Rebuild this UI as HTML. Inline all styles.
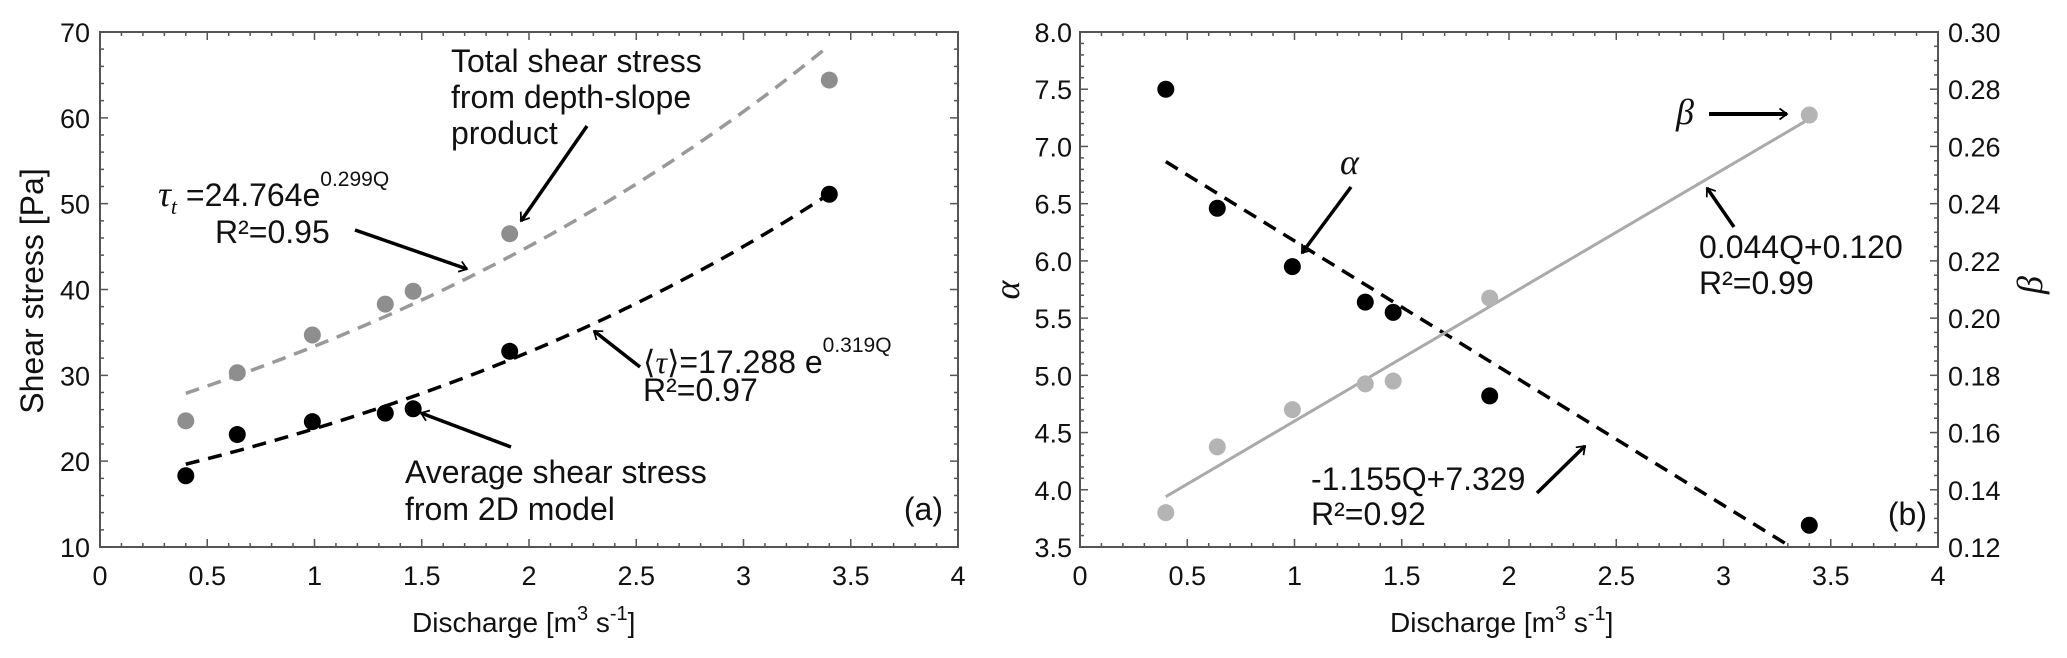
<!DOCTYPE html>
<html><head><meta charset="utf-8"><style>
html,body{margin:0;padding:0;background:#fff;}
svg{display:block;font-family:"Liberation Sans",sans-serif;}
.tk{font-size:27px;fill:#111;}
.an{font-size:32px;fill:#111;}
.sup{font-size:21px;fill:#111;}
</style></head><body>
<svg id="fig" width="2067" height="658" viewBox="0 0 2067 658" xmlns="http://www.w3.org/2000/svg">
<defs>
<marker id="ah" viewBox="0 0 10 10" refX="9" refY="5" markerWidth="5" markerHeight="5" orient="auto" markerUnits="userSpaceOnUse" style="overflow:visible">
<path d="M-6,-6 L9,5 L-6,16" fill="none" stroke="#000" stroke-width="3.5"/>
</marker>
</defs>
<g id="pa"></g>
<g id="pb"></g>

<!-- panel a text -->
<text transform="translate(43,291) rotate(-90)" text-anchor="middle" style="font-size:32px" fill="#111">Shear stress [Pa]</text>
<text x="412" y="632" style="font-size:28px" fill="#111">Discharge [m<tspan dy="-12" style="font-size:20px">3</tspan><tspan dy="12"> s</tspan><tspan dy="-12" style="font-size:20px">-1</tspan><tspan dy="12">]</tspan></text>
<text class="an" x="451"><tspan x="451" y="72">Total shear stress</tspan><tspan x="451" y="108">from depth-slope</tspan><tspan x="451" y="144">product</tspan></text>
<text class="an" x="158" y="206"><tspan font-style="italic" font-family="Liberation Serif" style="font-size:36px">τ</tspan><tspan font-style="italic" font-family="Liberation Serif" dy="8" style="font-size:22px">t</tspan><tspan dy="-8"> =24.764e</tspan><tspan dy="-20" style="font-size:21px">0.299Q</tspan></text>
<text class="an" x="215" y="243">R²=0.95</text>
<text class="an" x="643" y="373">⟨<tspan font-style="italic" font-family="Liberation Serif">τ</tspan>⟩=17.288 e<tspan dy="-21" style="font-size:21px">0.319Q</tspan></text>
<text class="an" x="643" y="401">R²=0.97</text>
<text class="an"><tspan x="405" y="483">Average shear stress</tspan><tspan x="405" y="520">from 2D model</tspan></text>
<text class="an" x="943" y="520" text-anchor="end">(a)</text>
<line x1="587" y1="126" x2="521" y2="221" stroke="#000" stroke-width="3.5" marker-end="url(#ah)"/>
<line x1="355" y1="230" x2="467" y2="269" stroke="#000" stroke-width="3.5" marker-end="url(#ah)"/>
<line x1="640" y1="367" x2="594" y2="331" stroke="#000" stroke-width="3.5" marker-end="url(#ah)"/>
<line x1="511" y1="447" x2="421" y2="413" stroke="#000" stroke-width="3.5" marker-end="url(#ah)"/>

<!-- panel b text -->
<text transform="translate(1019,290) rotate(-90)" text-anchor="middle" font-family="Liberation Serif" font-style="italic" style="font-size:36px" fill="#111">α</text>
<text transform="translate(2042,285) rotate(-90)" text-anchor="middle" font-family="Liberation Serif" font-style="italic" style="font-size:36px" fill="#111">β</text>
<text x="1390" y="632" style="font-size:28px" fill="#111">Discharge [m<tspan dy="-12" style="font-size:20px">3</tspan><tspan dy="12"> s</tspan><tspan dy="-12" style="font-size:20px">-1</tspan><tspan dy="12">]</tspan></text>
<text x="1676" y="124" font-family="Liberation Serif" font-style="italic" style="font-size:36px" fill="#111">β</text>
<line x1="1709" y1="114" x2="1787" y2="114" stroke="#000" stroke-width="4" marker-end="url(#ah)"/>
<text x="1340" y="174" font-family="Liberation Serif" font-style="italic" style="font-size:36px" fill="#111">α</text>
<line x1="1351" y1="187" x2="1302" y2="253" stroke="#000" stroke-width="3.5" marker-end="url(#ah)"/>
<text class="an"><tspan x="1699" y="258">0.044Q+0.120</tspan><tspan x="1699" y="294">R²=0.99</tspan></text>
<line x1="1734" y1="227" x2="1707" y2="188" stroke="#000" stroke-width="3.5" marker-end="url(#ah)"/>
<text class="an"><tspan x="1311" y="490">-1.155Q+7.329</tspan><tspan x="1311" y="525">R²=0.92</tspan></text>
<line x1="1537" y1="493" x2="1585" y2="446" stroke="#000" stroke-width="3.5" marker-end="url(#ah)"/>
<text class="an" x="1927" y="525" text-anchor="end">(b)</text>
</svg>
<script>
// Panel (a) data
const qA = [0.4, 0.64, 0.99, 1.33, 1.46, 1.91, 3.4];
const tauTotal = [24.7, 30.3, 34.7, 38.3, 39.8, 46.5, 64.4];
const tauAvg = [18.3, 23.1, 24.6, 25.6, 26.1, 32.8, 51.1];
const fitTotal = [24.764, 0.299];
const fitAvg = [17.288, 0.319];
const xTicksA = [0, 0.5, 1, 1.5, 2, 2.5, 3, 3.5, 4];
const yTicksA = [10, 20, 30, 40, 50, 60, 70];
// Panel (b) data
const qB = [0.4, 0.64, 0.99, 1.33, 1.46, 1.91, 3.4];
const alphaVals = [7.5, 6.46, 5.95, 5.64, 5.55, 4.82, 3.69];
const betaVals = [0.132, 0.155, 0.168, 0.177, 0.178, 0.207, 0.271];
const fitAlpha = [-1.155, 7.329];
const fitBeta = [0.044, 0.120];
const xTicksB = [0, 0.5, 1, 1.5, 2, 2.5, 3, 3.5, 4];
const yTicksAlpha = ["3.5","4.0","4.5","5.0","5.5","6.0","6.5","7.0","7.5","8.0"];
const yTicksBeta = ["0.12","0.14","0.16","0.18","0.20","0.22","0.24","0.26","0.28","0.30"];

const NS = "http://www.w3.org/2000/svg";
function mk(tag, attrs, parent){const e=document.createElementNS(NS,tag);for(const k in attrs)e.setAttribute(k,attrs[k]);parent.appendChild(e);return e;}
const TOP=32, BOT=547;
function lin(d0,d1,r0,r1){return v=>r0+(v-d0)/(d1-d0)*(r1-r0);}

function frame(g, L, R, xs, xTicks, xMinor){
  const f=mk('rect',{x:L,y:TOP,width:R-L,height:BOT-TOP,fill:'none',stroke:'#555','stroke-width':2},g);
  
  
  for(let v=0; v<=4.0001; v+=xMinor){
    const x=xs(v); const major=Math.abs(v/0.5-Math.round(v/0.5))<1e-6; const len=major?8:4;
    const t=mk('path',{d:`M${x},${BOT}v${-len}M${x},${TOP}v${len}`,stroke:'#555','stroke-width':1.5},g);
    
    
  }
  xTicks.forEach(v=>{
    const t=mk('text',{x:xs(v),y:585,'text-anchor':'middle',class:'tk'},g);
    
    
    t.textContent=String(v);
  });
}
function yAxis(g, L, R, ys, lo, hi, minor, majorStep, labels, side, labelX){
  for(let v=lo; v<=hi+1e-9; v+=minor){
    const y=ys(v); const major=Math.abs((v-lo)/majorStep-Math.round((v-lo)/majorStep))<1e-6; const len=major?8:4;
    let d = side==='both' ? `M${L},${y}h${len}M${R},${y}h${-len}` : (side==='left'?`M${L},${y}h${len}`:`M${R},${y}h${-len}`);
    const t=mk('path',{d:d,stroke:'#555','stroke-width':1.5},g);
    
    
  }
  labels.forEach(s=>{
    const v=parseFloat(s);
    const t=mk('text',{x:labelX,y:ys(v)+10,'text-anchor':side==='right'?'start':'end',class:'tk'},g);
    
    
    t.textContent=s;
  });
}
function dot(g,x,y,fill,name){
  const c=mk('circle',{cx:x,cy:y,r:8.5,fill:fill},g);
  
  
}

// Panel a
(function(){
  const g=document.getElementById('pa');
  const L=100,R=958;
  const xs=lin(0,4,L,R), ys=lin(10,70,BOT,TOP);
  frame(g,L,R,xs,xTicksA,0.1);
  yAxis(g,L,R,ys,10,70,2,10,yTicksA.map(String),'both',90);
  function curve(p,color,name){
    let d='';
    for(let i=0;i<=60;i++){const q=qA[0]+(qA[qA.length-1]-qA[0])*i/60;d+=(i?'L':'M')+xs(q).toFixed(1)+','+ys(p[0]*Math.exp(p[1]*q)).toFixed(1);}
    const e=mk('path',{d:d,fill:'none',stroke:color,'stroke-width':3.5,'stroke-dasharray':'14 9'},g);
    
    
  }
  curve(fitTotal,'#999','fit-curve-total');
  curve(fitAvg,'#000','fit-curve-average');
  qA.forEach((q,i)=>dot(g,xs(q),ys(tauTotal[i]),'#8e8e8e','point-total'));
  qA.forEach((q,i)=>dot(g,xs(q),ys(tauAvg[i]),'#000','point-average'));
})();

// Panel b
(function(){
  const g=document.getElementById('pb');
  const L=1080,R=1938;
  const xs=lin(0,4,L,R), ya=lin(3.5,8.0,BOT,TOP), yb=lin(0.12,0.30,BOT,TOP);
  frame(g,L,R,xs,xTicksB,0.1);
  yAxis(g,L,R,ya,3.5,8.0,0.1,0.5,yTicksAlpha,'left',1072);
  yAxis(g,L,R,yb,0.12,0.30,0.005,0.02,yTicksBeta,'right',1948);
  const q0=qB[0], q1=qB[qB.length-1];
  const qa1=(3.5-fitAlpha[1])/fitAlpha[0];
  const la=mk('line',{x1:xs(q0),y1:ya(fitAlpha[0]*q0+fitAlpha[1]),x2:xs(qa1),y2:ya(3.5),stroke:'#000','stroke-width':3.5,'stroke-dasharray':'14 9'},g);
  
  
  const lb=mk('line',{x1:xs(q0),y1:yb(fitBeta[0]*q0+fitBeta[1]),x2:xs(q1),y2:yb(fitBeta[0]*q1+fitBeta[1]),stroke:'#aaa','stroke-width':3},g);
  
  
  qB.forEach((q,i)=>dot(g,xs(q),yb(betaVals[i]),'#b4b4b4','point-beta'));
  qB.forEach((q,i)=>dot(g,xs(q),ya(alphaVals[i]),'#000','point-alpha'));
})();
</script>
</body></html>
